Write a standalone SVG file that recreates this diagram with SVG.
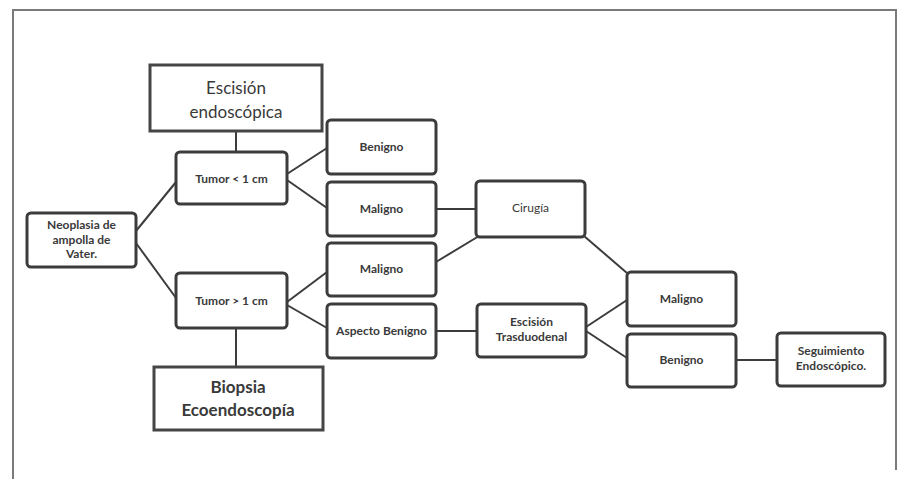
<svg xmlns="http://www.w3.org/2000/svg" width="901" height="479" viewBox="0 0 901 479">
<style>
.bx{fill:#fff;stroke:#3c3c3c;stroke-width:3}
.sq{fill:#fff;stroke:#454545;stroke-width:3}
.t{font-family:Lato,"Open Sans","Liberation Sans",sans-serif;font-weight:bold;font-size:12px;fill:#3a3a3a;text-anchor:middle}
.big{font-family:Lato,"Open Sans","Liberation Sans",sans-serif;font-size:17px;fill:#3a3a3a;text-anchor:middle}
.cn line{stroke:#3c3c3c;stroke-width:2}
</style>
<rect width="901" height="479" fill="#fff"/>
<path d="M13 479 V10 H896 V470" fill="none" stroke="#7a7a7a" stroke-width="2"/>
<g class="cn">
<line x1="236" y1="131" x2="236" y2="152"/>
<line x1="236" y1="328" x2="236" y2="367"/>
<line x1="136" y1="231" x2="176" y2="182"/>
<line x1="136" y1="243" x2="176" y2="298"/>
<line x1="287" y1="174" x2="327" y2="148"/>
<line x1="287" y1="180" x2="327" y2="208"/>
<line x1="287" y1="302" x2="327" y2="272"/>
<line x1="287" y1="305" x2="327" y2="328"/>
<line x1="436" y1="209" x2="476" y2="209"/>
<line x1="436" y1="262" x2="479" y2="236"/>
<line x1="584" y1="236" x2="627" y2="273"/>
<line x1="436" y1="331" x2="477" y2="331"/>
<line x1="586" y1="327" x2="627" y2="300"/>
<line x1="586" y1="331" x2="627" y2="358"/>
<line x1="736" y1="360" x2="777" y2="360"/>
</g>
<g id="escision-endoscopica"><rect class="sq" x="150" y="65" width="172" height="66"/><text class="big"><tspan x="236" y="94">Escisión</tspan><tspan x="236" y="118">endoscópica</tspan></text></g>
<g id="tumor-menor"><rect class="bx" x="176" y="152" width="111" height="52" rx="4"/><text class="t" x="231.5" y="183">Tumor &lt; 1 cm</text></g>
<g id="benigno1"><rect class="bx" x="327" y="120" width="109" height="54" rx="4"/><text class="t" x="381.5" y="151">Benigno</text></g>
<g id="maligno1"><rect class="bx" x="327" y="182" width="109" height="54" rx="4"/><text class="t" x="381.5" y="213">Maligno</text></g>
<g id="neoplasia"><rect class="bx" x="27" y="213" width="109" height="54" rx="4"/><text class="t"><tspan x="81.5" y="229">Neoplasia de</tspan><tspan x="81.5" y="244">ampolla de</tspan><tspan x="81.5" y="258">Vater.</tspan></text></g>
<g id="tumor-mayor"><rect class="bx" x="176" y="273" width="111" height="55" rx="4"/><text class="t" x="231.5" y="305">Tumor &gt; 1 cm</text></g>
<g id="maligno2"><rect class="bx" x="327" y="243" width="109" height="53" rx="4"/><text class="t" x="381.5" y="273">Maligno</text></g>
<g id="aspecto-benigno"><rect class="bx" x="327" y="304" width="109" height="54" rx="4"/><text class="t" x="381.5" y="335">Aspecto Benigno</text></g>
<g id="biopsia"><rect class="sq" x="154" y="367" width="169" height="63"/><text class="big" style="font-weight:bold"><tspan x="238" y="393">Biopsia</tspan><tspan x="238" y="416">Ecoendoscopía</tspan></text></g>
<g id="cirugia"><rect class="bx" x="476" y="181" width="109" height="56" rx="4"/><text class="t" style="font-weight:normal" x="530.5" y="212">Cirugía</text></g>
<g id="maligno3"><rect class="bx" x="627" y="272" width="109" height="54" rx="4"/><text class="t" x="681.5" y="303">Maligno</text></g>
<g id="escision-trasduodenal"><rect class="bx" x="477" y="304" width="109" height="53" rx="4"/><text class="t"><tspan x="531.5" y="326">Escisión</tspan><tspan x="531.5" y="341">Trasduodenal</tspan></text></g>
<g id="benigno2"><rect class="bx" x="627" y="334" width="109" height="53" rx="4"/><text class="t" x="681.5" y="364">Benigno</text></g>
<g id="seguimiento"><rect class="bx" x="777" y="333" width="108" height="53" rx="4"/><text class="t"><tspan x="831" y="355">Seguimiento</tspan><tspan x="831" y="370">Endoscópico.</tspan></text></g>
</svg>
